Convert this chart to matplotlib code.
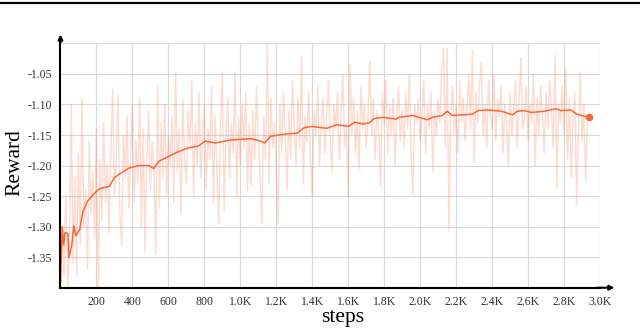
import matplotlib
matplotlib.use("Agg")
import matplotlib.pyplot as plt
import numpy as np

plt.rcParams["font.family"] = ["Liberation Serif", "DejaVu Serif"]

# raw reward, one value every 10 steps (0 .. 2930)
raw_steps = list(range(0, 2940, 10))
raw_reward = [
    -1.40, -1.30, -1.38, -1.25, -1.40, -1.33, -1.10, -1.36, -1.22, -1.38,
    -1.18, -1.33, -1.09, -1.30, -1.24, -1.37, -1.16, -1.28, -1.21, -1.32,
    -1.14, -1.40, -1.19, -1.29, -1.13, -1.26, -1.20, -1.31, -1.17, -1.075,
    -1.25, -1.19, -1.085, -1.28, -1.33, -1.15, -1.22, -1.12, -1.27, -1.18,
    -1.10, -1.26, -1.16, -1.23, -1.09, -1.30, -1.14, -1.34, -1.19, -1.11,
    -1.24, -1.16, -1.21, -1.345, -1.068, -1.27, -1.13, -1.22, -1.10, -1.25,
    -1.15, -1.20, -1.12, -1.26, -1.048, -1.21, -1.14, -1.28, -1.09, -1.19,
    -1.23, -1.11, -1.17, -1.06, -1.25, -1.13, -1.20, -1.08, -1.22, -1.15,
    -1.10, -1.24, -1.14, -1.19, -1.07, -1.26, -1.12, -1.21, -1.296, -1.13,
    -1.048, -1.274, -1.15, -1.09, -1.22, -1.13, -1.18, -1.048, -1.25, -1.12,
    -1.20, -1.10, -1.17, -1.08, -1.24, -1.13, -1.234, -1.11, -1.19, -1.07,
    -1.16, -1.22, -1.296, -1.12, -1.19, -1.00, -1.23, -1.09, -1.17, -1.13,
    -1.21, -1.296, -1.10, -1.18, -1.08, -1.15, -1.24, -1.11, -1.19, -1.06,
    -1.14, -1.20, -1.09, -1.17, -1.022, -1.23, -1.12, -1.16, -1.08, -1.19,
    -1.25, -1.11, -1.15, -1.07, -1.20, -1.13, -1.09, -1.18, -1.12, -1.06,
    -1.16, -1.21, -1.10, -1.14, -1.08, -1.19, -1.12, -1.05, -1.17, -1.13,
    -1.252, -1.035, -1.15, -1.09, -1.18, -1.11, -1.206, -1.07, -1.14, -1.10,
    -1.17, -1.12, -1.03, -1.15, -1.09, -1.19, -1.11, -1.14, -1.234, -1.08,
    -1.13, -1.06, -1.18, -1.10, -1.15, -1.09, -1.20, -1.12, -1.07, -1.16,
    -1.11, -1.17, -1.08, -1.14, -1.05, -1.19, -1.247, -1.10, -1.13, -1.09,
    -1.16, -1.12, -1.06, -1.18, -1.10, -1.14, -1.08, -1.21, -1.11, -1.15,
    -1.09, -1.13, -1.04, -1.008, -1.17, -1.008, -1.307, -1.12, -1.07, -1.15,
    -1.10, -1.18, -1.06, -1.13, -1.09, -1.16, -1.11, -1.05, -1.14, -1.011,
    -1.195, -1.08, -1.13, -1.07, -1.030, -1.15, -1.10, -1.17, -1.06, -1.12,
    -1.14, -1.05, -1.16, -1.09, -1.12, -1.07, -1.18, -1.10, -1.13, -1.201,
    -1.08, -1.15, -1.11, -1.06, -1.17, -1.09, -1.024, -1.14, -1.12, -1.07,
    -1.16, -1.10, -1.13, -1.05, -1.201, -1.09, -1.15, -1.07, -1.12, -1.18,
    -1.08, -1.14, -1.06, -1.11, -1.17, -1.019, -1.236, -1.10, -1.13, -1.07,
    -1.15, -1.04, -1.19, -1.09, -1.22, -1.12, -1.08, -1.264, -1.14, -1.048,
    -1.16, -1.10, -1.225, -1.13,
]

# smoothed curve
smooth_steps = [0, 10, 18, 25, 41, 47, 63, 74, 85, 107, 124, 151, 184, 217,
                272, 299, 327, 382, 437, 492, 519, 547, 602, 657, 712, 767,
                805, 860, 948, 1058, 1113, 1135, 1168, 1261, 1316, 1355, 1398,
                1426, 1481, 1536, 1602, 1635, 1684, 1717, 1745, 1794, 1866,
                1882, 1959, 2041, 2068, 2123, 2151, 2178, 2233, 2288, 2322,
                2376, 2415, 2453, 2514, 2541, 2580, 2618, 2690, 2756, 2783,
                2838, 2871, 2937]
smooth_reward = [-1.39, -1.30, -1.33, -1.31, -1.311, -1.351, -1.33, -1.299,
                 -1.315, -1.305, -1.276, -1.258, -1.247, -1.238, -1.234,
                 -1.220, -1.214, -1.204, -1.200, -1.200, -1.205, -1.193,
                 -1.185, -1.177, -1.171, -1.168, -1.160, -1.163, -1.158,
                 -1.156, -1.160, -1.163, -1.152, -1.148, -1.147, -1.138,
                 -1.136, -1.137, -1.139, -1.133, -1.136, -1.129, -1.132,
                 -1.130, -1.123, -1.121, -1.124, -1.121, -1.118, -1.125,
                 -1.121, -1.118, -1.111, -1.118, -1.117, -1.116, -1.110,
                 -1.109, -1.110, -1.111, -1.117, -1.111, -1.110, -1.113,
                 -1.111, -1.107, -1.110, -1.109, -1.116, -1.121]

xticks = [200, 400, 600, 800, 1000, 1200, 1400, 1600, 1800, 2000, 2200,
          2400, 2600, 2800, 3000]
xtick_labels = ["200", "400", "600", "800", "1.0K", "1.2K", "1.4K", "1.6K",
                "1.8K", "2.0K", "2.2K", "2.4K", "2.6K", "2.8K", "3.0K"]
yticks = [-1.35, -1.30, -1.25, -1.20, -1.15, -1.10, -1.05, -1.00]
ytick_labels = ["-1.35", "-1.30", "-1.25", "-1.20", "-1.15", "-1.10", "-1.05", ""]

color = "#f4683a"

fig = plt.figure(figsize=(6.4, 3.29), dpi=100)
ax = fig.add_axes([0.0945, 0.1255, 0.843, 0.7425])

ax.plot(raw_steps, raw_reward, color=color, alpha=0.22, lw=1.1)
ax.plot(smooth_steps, smooth_reward, color=color, lw=1.1)
ax.plot(smooth_steps[-1], smooth_reward[-1], "o", color=color, ms=4.5)

ax.set_xlim(0, 2965)
ax.set_ylim(-1.40, -1.0)
ax.set_xticks(xticks)
ax.set_xticklabels(xtick_labels)
ax.set_yticks(yticks)
ax.set_yticklabels(ytick_labels)
ax.tick_params(length=0, labelsize=8.5, colors="#333333", pad=6)
ax.grid(True, color="#d9d9d9", lw=0.8)
ax.set_axisbelow(True)

for s in ["top", "right"]:
    ax.spines[s].set_visible(False)
for s in ["left", "bottom"]:
    ax.spines[s].set_linewidth(1.5)
    ax.spines[s].set_color("black")

# axis arrows
ax.annotate("", xy=(0, 1.048), xytext=(0, 0.99), xycoords="axes fraction",
            arrowprops=dict(arrowstyle="-|>", color="black", lw=1.5,
                            mutation_scale=7), annotation_clip=False)
ax.annotate("", xy=(1.032, 0), xytext=(0.99, 0), xycoords="axes fraction",
            arrowprops=dict(arrowstyle="-|>", color="black", lw=1.5,
                            mutation_scale=7), annotation_clip=False)

fig.text(0.023, 0.505, "Reward", rotation=90, fontsize=15.5, ha="center",
         va="center")
fig.text(0.536, 0.035, "steps", fontsize=15.5, ha="center", va="center")

# rule along the top of the figure
fig.add_artist(plt.Line2D([0, 1], [0.992, 0.992], color="black", lw=1.6))

fig.savefig("out.png", dpi=100)
